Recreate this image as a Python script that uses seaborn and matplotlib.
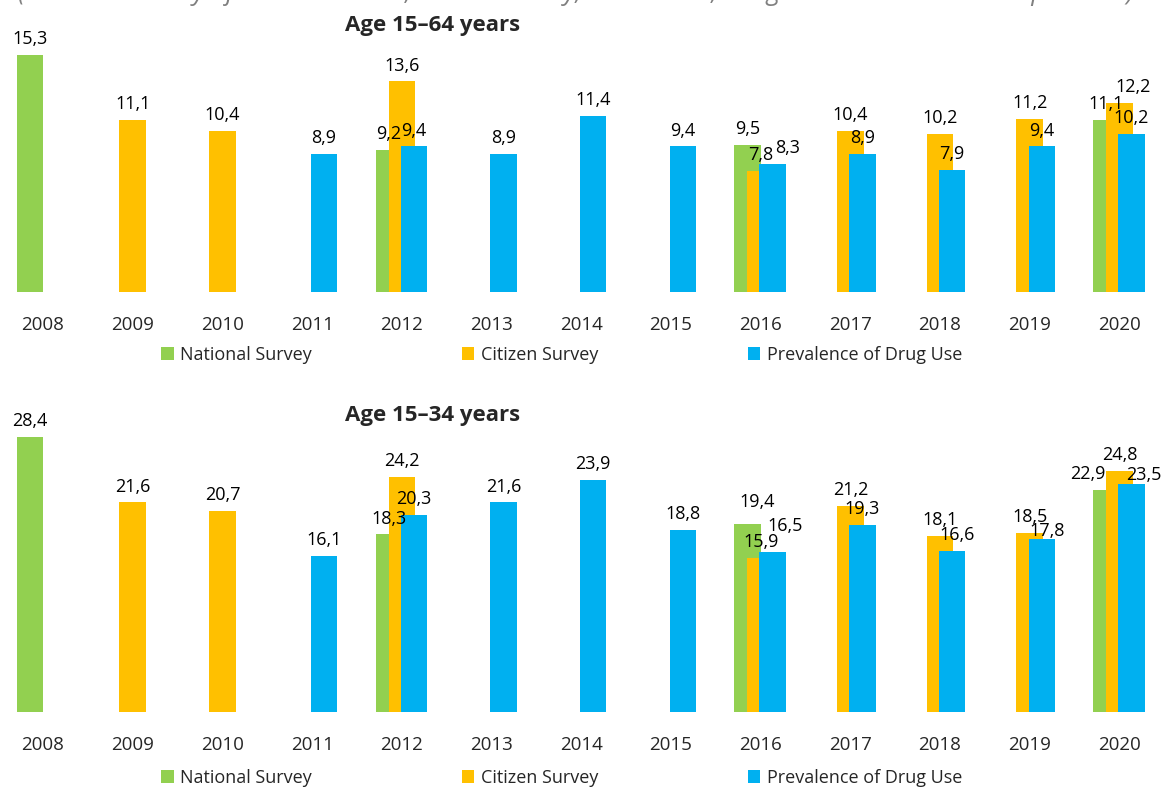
"""Drug use prevalence surveys, 2008-2020, two age groups (Excel-style overlapping bars)."""

import matplotlib.pyplot as plt
import pandas as pd
import seaborn as sns
from matplotlib.patches import Patch

YEARS = [str(y) for y in range(2008, 2021)]
SERIES = ["National Survey", "Citizen Survey", "Prevalence of Drug Use"]
COLORS = ["#92D050", "#FFC000", "#00B0F0"]

# Age 15-64
national_years_1564 = ["2008", "2012", "2016", "2020"]
national_1564 = [15.3, 9.2, 9.5, 11.1]
citizen_years_1564 = ["2009", "2010", "2012", "2016", "2017", "2018", "2019", "2020"]
citizen_1564 = [11.1, 10.4, 13.6, 7.8, 10.4, 10.2, 11.2, 12.2]
prev_years_1564 = ["2011", "2012", "2013", "2014", "2015", "2016", "2017", "2018", "2019", "2020"]
prev_1564 = [8.9, 9.4, 8.9, 11.4, 9.4, 8.3, 8.9, 7.9, 9.4, 10.2]

# Age 15-34
national_years_1534 = ["2008", "2012", "2016", "2020"]
national_1534 = [28.4, 18.3, 19.4, 22.9]
citizen_years_1534 = ["2009", "2010", "2012", "2016", "2017", "2018", "2019", "2020"]
citizen_1534 = [21.6, 20.7, 24.2, 15.9, 21.2, 18.1, 18.5, 24.8]
prev_years_1534 = ["2011", "2012", "2013", "2014", "2015", "2016", "2017", "2018", "2019", "2020"]
prev_1534 = [16.1, 20.3, 21.6, 23.9, 18.8, 16.5, 19.3, 16.6, 17.8, 23.5]

BAR_WIDTH = 0.295
OFFSETS = [-0.145, 0.0, 0.134]
FONT = "Open Sans"
PAD = 5

# hand-moved data labels in the original (pixels: right, up)
NUDGE_1564 = {(2, "2016"): (15, 0), (1, "2020"): (14, 0)}
NUDGE_1534 = {(0, "2016"): (10, 6), (2, "2016"): (12, 10),
              (2, "2018"): (5, 0), (2, "2019"): (5, -8),
              (0, "2020"): (-19, 0), (2, "2020"): (12, -7)}


def comma(v):
    return f"{v:.1f}".replace(".", ",")


def draw_panel(ax, series, ymax, nudge, title, title_y, legend_y, fig):
    for i, ((years, values), color, off) in enumerate(zip(series, COLORS, OFFSETS)):
        df = pd.DataFrame({"year": years, "value": values})
        sns.barplot(data=df, x="year", y="value", order=YEARS, color=color,
                    saturation=1, width=BAR_WIDTH, errorbar=None,
                    linewidth=0, ax=ax)
        cont = ax.containers[-1]
        for patch in cont:
            patch.set_x(patch.get_x() + off)
        labels = ax.bar_label(cont, fmt=comma, padding=PAD, fontsize=13,
                              family=FONT, color="#000000")
        for year, lab in zip(years, labels):
            dx, dy = nudge.get((i, year), (0, 0))
            lab.xyann = (dx * 0.72, PAD + dy * 0.72)

    ax.set_xlim(-0.479, 12.508)
    ax.set_ylim(0, ymax)
    ax.set_yticks([])
    ax.set_xlabel("")
    ax.set_ylabel("")
    ax.tick_params(axis="x", length=0, pad=17, labelsize=13.5)
    for lab in ax.get_xticklabels():
        lab.set_family(FONT)
    for sp in ax.spines.values():
        sp.set_visible(False)

    fig.text(433 / 1165, title_y, title, ha="center", va="center",
             fontsize=16, fontweight="bold", family=FONT)

    handles = [Patch(facecolor=c, edgecolor="none") for c in COLORS]
    ax.legend(handles, SERIES, loc="center left", ncol=3,
              bbox_to_anchor=(161 / 1165, legend_y),
              bbox_transform=fig.transFigure, frameon=False,
              borderpad=0, borderaxespad=0, handlelength=0.7,
              handleheight=0.7, handletextpad=0.35, columnspacing=8.3,
              prop={"family": FONT, "size": 13})


def main():
    sns.set_theme(style="white")
    plt.rcParams["font.family"] = [FONT, "DejaVu Sans"]

    fig = plt.figure(figsize=(11.65, 7.87), dpi=100)
    ax_top = fig.add_axes([0, 1 - 292 / 787, 1, (292 - 40) / 787])
    ax_bot = fig.add_axes([0, 1 - 712 / 787, 1, (712 - 400) / 787])

    draw_panel(ax_top,
               [(national_years_1564, national_1564),
                (citizen_years_1564, citizen_1564),
                (prev_years_1564, prev_1564)],
               252 / 15.48, NUDGE_1564, "Age 15–64 years",
               1 - 26 / 787, 1 - 355 / 787, fig)
    draw_panel(ax_bot,
               [(national_years_1534, national_1534),
                (citizen_years_1534, citizen_1534),
                (prev_years_1534, prev_1534)],
               312 / 9.7, NUDGE_1534, "Age 15–34 years",
               1 - 416 / 787, 1 - 778 / 787, fig)

    fig.text(0.494, 1 + 6 / 787, "(National Survey of Substance Use, Citizen Survey, "
             "Prevalence, Drug Use in the General Population)", ha="center",
             va="center", fontsize=18.5, style="italic", color="#808080",
             family=FONT)

    fig.savefig("out.png", dpi=100)
    plt.close(fig)


if __name__ == "__main__":
    main()
